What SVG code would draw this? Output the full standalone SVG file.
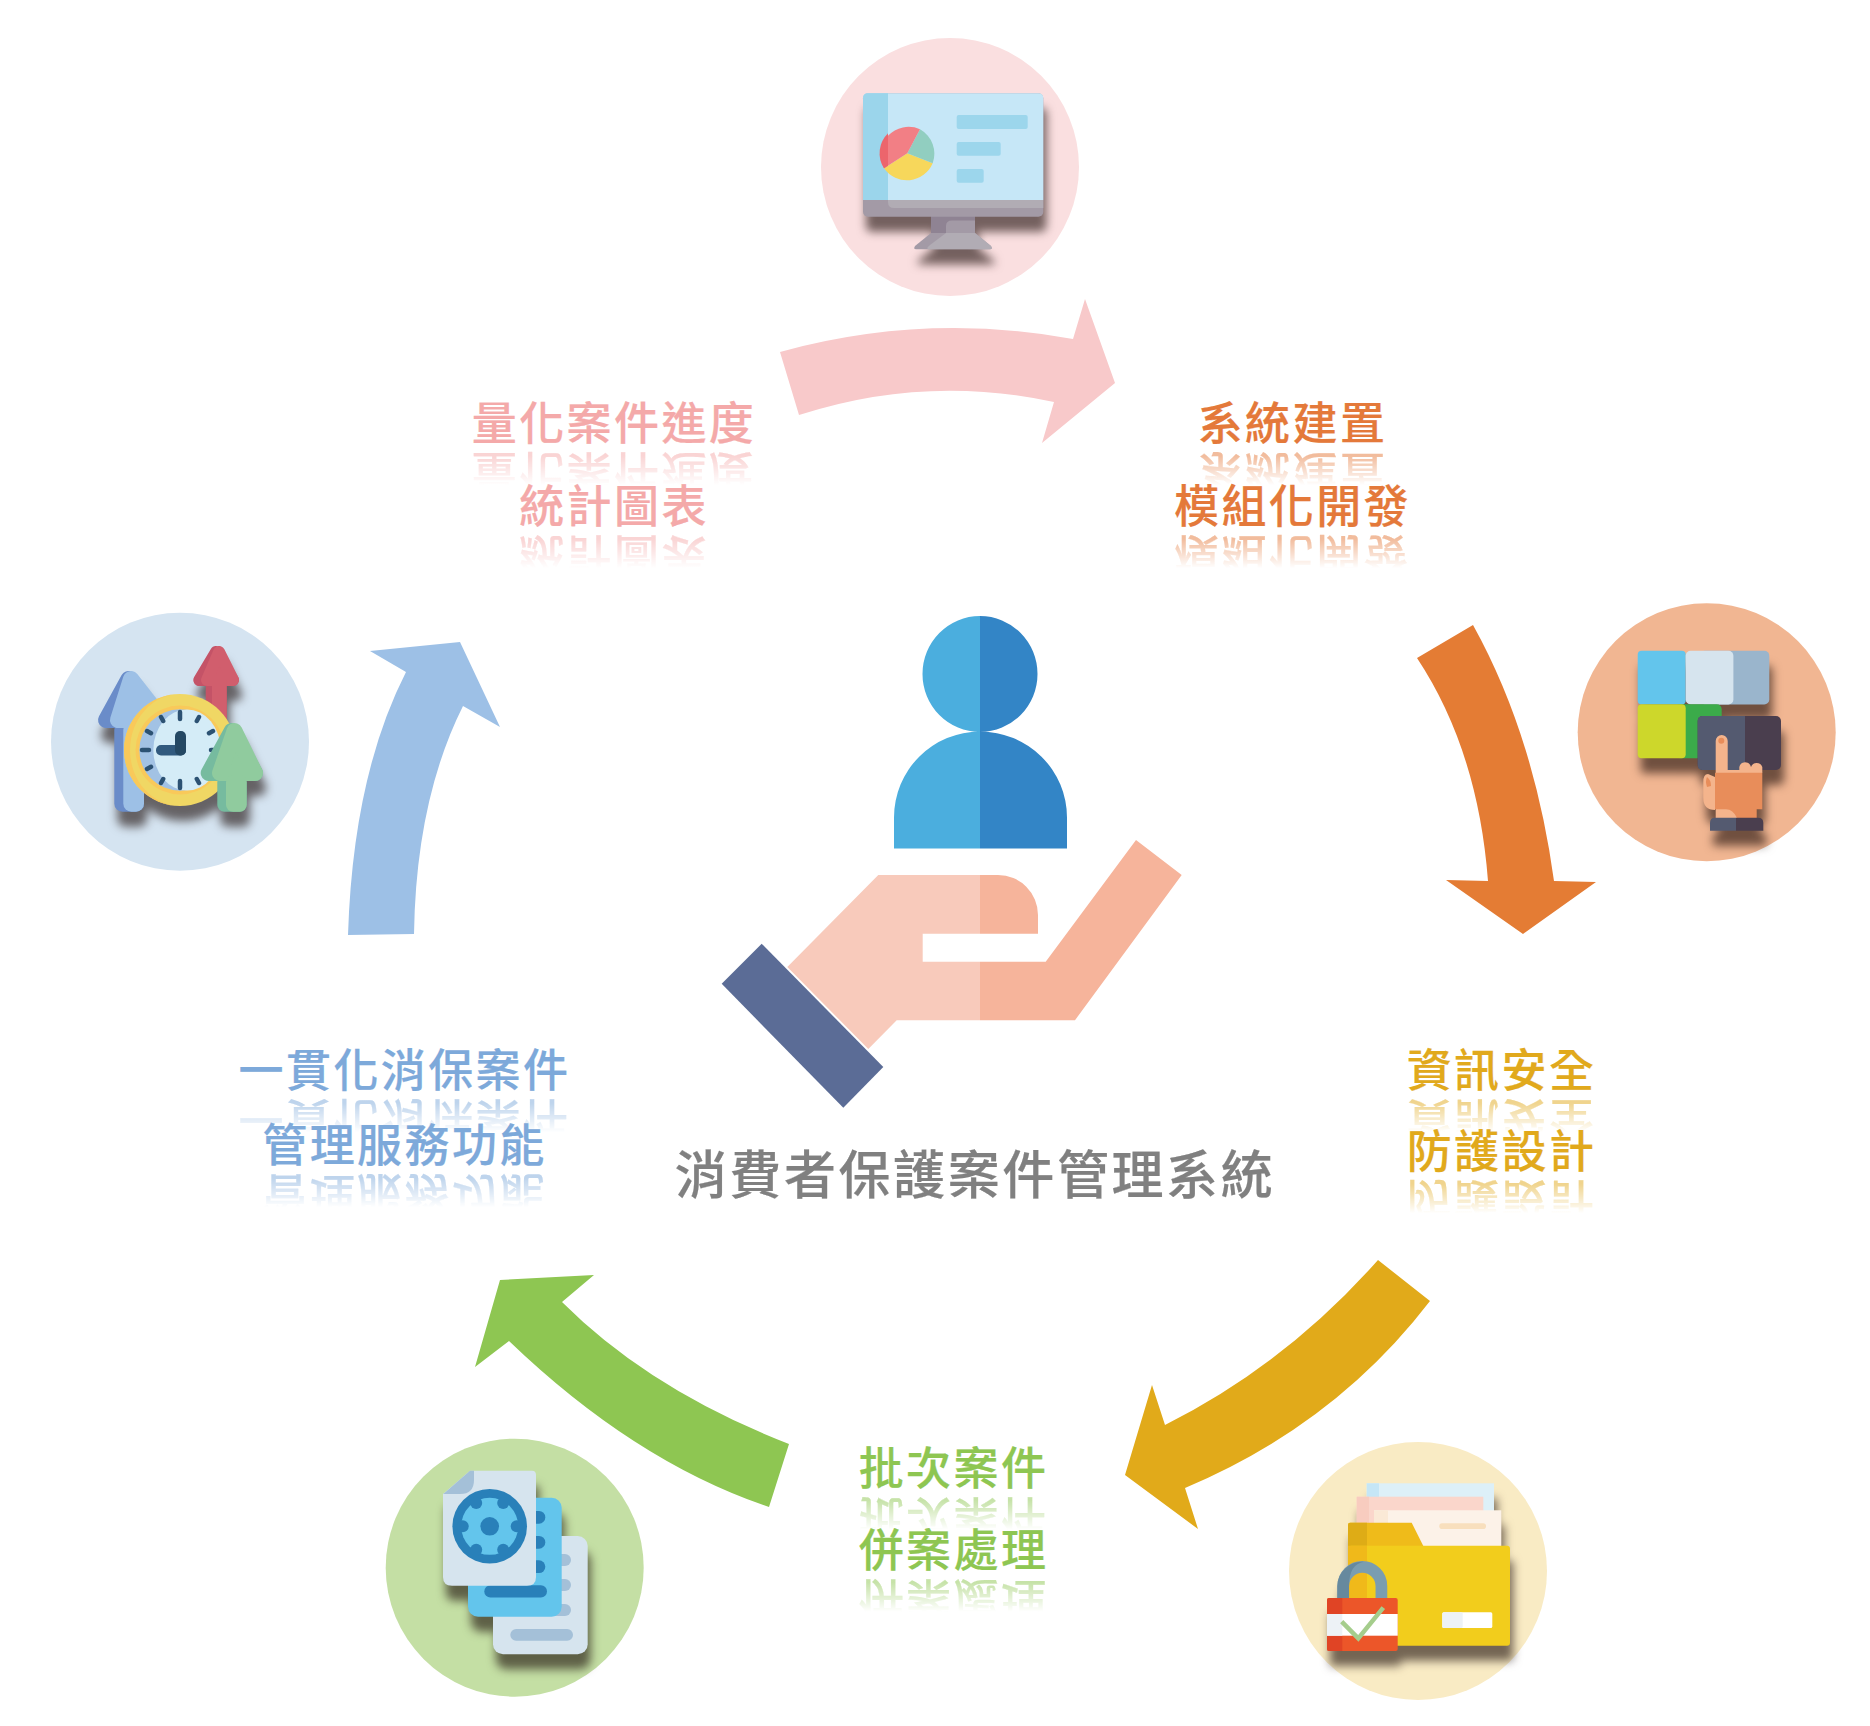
<svg xmlns="http://www.w3.org/2000/svg" width="1870" height="1726" viewBox="0 0 1870 1726">
<style>
text{font-family:"Noto Sans CJK TC","Noto Sans CJK SC",sans-serif;font-weight:500;text-anchor:middle;stroke-width:.2px}
.l{font-size:45px;letter-spacing:2.4px}
.t{font-size:52px;letter-spacing:2.6px;fill:#808080;stroke:#808080}
.r{mask:url(#fade)}
.pk{fill:#f4a9a9;stroke:#f4a9a9}.or{fill:#e4793a;stroke:#e4793a}.go{fill:#e1a91c;stroke:#e1a91c}.gr{fill:#8ec652;stroke:#8ec652}.bl{fill:#7da9da;stroke:#7da9da}
</style>
<defs>
<filter id="sh" filterUnits="userSpaceOnUse" x="0" y="0" width="1870" height="1726" color-interpolation-filters="sRGB">
<feGaussianBlur in="SourceAlpha" stdDeviation="5"/>
<feOffset dx="3" dy="15" result="b"/>
<feFlood flood-color="#1a0c08" flood-opacity=".6"/>
<feComposite in2="b" operator="in"/>
<feMerge><feMergeNode/><feMergeNode in="SourceGraphic"/></feMerge>
</filter>
<linearGradient id="fadeG" x1="0" y1="0" x2="0" y2="1"><stop offset=".35" stop-color="#fff" stop-opacity="0"/><stop offset=".8" stop-color="#fff" stop-opacity=".5"/></linearGradient>
<mask id="fade" maskUnits="objectBoundingBox" maskContentUnits="objectBoundingBox" x="0" y="0" width="1" height="1"><rect width="1" height="1" fill="url(#fadeG)"/></mask>
</defs>
<rect width="1870" height="1726" fill="#fff"/>
<g id="connectors">
<path fill="#f8c9ca" d="M780 352Q925 312 1073 339L1085 299L1115 383L1042 443L1054 402Q925 374 799 415Z"/>
<path fill="#e47c34" d="M1473 625Q1534 735 1554 881L1596 882L1523 934L1446 880L1488 881Q1478 750 1417 658Z"/>
<path fill="#e1aa1a" d="M1378 1260Q1285 1365 1165 1425L1152 1385L1125 1475L1198 1529L1185 1488Q1335 1425 1430 1301Z"/>
<path fill="#8ec652" d="M789 1444Q650 1390 562 1302L594 1275L500 1280L475 1367L509 1341Q635 1462 769 1507Z"/>
<path fill="#9dc0e6" d="M348 935Q353 776 406 672L370 651L460 642L500 727L463 706Q416 800 414 934Z"/>
</g>
<g id="node-center">
<path fill="#4baede" d="M980 616A57.500 58 0 0 0 980 732ZM980 731.500A86 86 0 0 0 894 817.500V848.500H980Z"/>
<path fill="#3385c6" d="M980 616A57.500 58 0 0 1 980 732ZM980 731.500A87 86 0 0 1 1067 817.500V848.500H980Z"/>
<g transform="translate(0 -5)">
<path fill="#f8cabb" d="M878.300 880H980V938.800H922.700V966.800H980V1025.200H896.700L868.300 1054L787.300 972Z"/>
<path fill="#f6b49b" d="M980 880H998A40 40 0 0 1 1038 920V938.800H980ZM980 966.800H1045.700L1136 845L1181.700 880L1075 1025.200H980Z"/>
<path fill="#5b6c96" d="M761.700 948.800L883.300 1072L843.300 1112.800L721.700 988.800Z"/>
</g>
<text class="t" x="975" y="1194">消費者保護案件管理系統</text>
</g>
<g id="node-monitor">
<circle cx="950" cy="167" r="129" fill="#fadfe0"/>
<g filter="url(#sh)">
<path fill="#8f8393" d="M931 216H975V234H931Z"/>
<path fill="#a39aa6" d="M946 234V226Q946 220.500 952 220.500H975V234Z"/>
<path fill="#a39aa6" d="M931 233L915 246Q913 249.300 916 249.300H990Q993 249.300 991 246L975 233Z"/>
<path fill="#b1acb4" d="M946 233H975L991 246Q993 249.300 990 249.300H928Q926 248 930 245Z"/>
<rect x="863" y="93.300" width="180.300" height="123.400" rx="5" fill="#a39aa6"/>
<path fill="#c6e7f7" d="M868 93.300H1038.300Q1043.300 93.300 1043.300 98.300V200H863V98.300Q863 93.300 868 93.300Z"/>
<path fill="#9bd5eb" d="M868 93.300H888V200H863V98.300Q863 93.300 868 93.300Z"/>
<path fill="#b1acb4" d="M888 200H1043.300V208H894Q888 208 888 202Z"/>
</g>
<path fill="#f7d75b" d="M907.300 153.300L932.700 163.300A28 28 0 0 1 884 168.300Z"/>
<path fill="#91cec0" d="M907.300 153.300L920 129.300A28 28 0 0 1 932.700 163.300Z"/>
<path fill="#f27f85" d="M907.300 153.300L884 168.300A28 28 0 0 1 920 129.300Z"/>
<path fill="#ec656c" d="M888 133.200A28 28 0 0 0 884 168.300L888 165.700Z"/>
<g fill="#9cd6ec"><rect x="956.700" y="115" width="71" height="14" rx="2"/><rect x="956.700" y="142" width="44" height="13.700" rx="2"/><rect x="956.700" y="169" width="27" height="13.700" rx="2"/></g>
</g>
<g id="node-module">
<circle cx="1706.700" cy="732.300" r="129" fill="#f1b692"/>
<g filter="url(#sh)">
<rect x="1700" y="650.700" width="69.300" height="53.700" rx="5" fill="#9ab5cc"/>
<rect x="1637.700" y="650.700" width="48" height="53.700" rx="4" fill="#63c5ec"/>
<rect x="1685.700" y="650.700" width="47.700" height="53.700" rx="5" fill="#d6e4ee"/>
<rect x="1675" y="704.300" width="46.700" height="54" rx="5" fill="#3bab4a"/>
<rect x="1637.700" y="704.300" width="48" height="54" rx="4" fill="#cdd72b"/>
<rect x="1697.700" y="716" width="83.300" height="54" rx="5" fill="#4a3e4e"/>
<path fill="#545a70" d="M1702.700 716H1745V770H1702.700Q1697.700 770 1697.700 765V721Q1697.700 716 1702.700 716Z"/>
<path fill="#f4b48c" d="M1715.700 773V741A6 6 0 0 1 1727.700 741V770H1739.300V767A6 6 0 0 1 1751 767A6 6 0 0 1 1762.300 767V773ZM1703.300 782Q1703.300 774 1708 774L1715 777V810H1715Q1703.300 810 1703.300 798ZM1715.700 809H1737V818H1715.700Z"/>
<path fill="#e88d5a" d="M1715 772.700H1762.300V809.300H1756.700V818H1737Q1733 809.300 1726 809.300H1715Z"/>
<circle cx="1721.300" cy="740.700" r="3" fill="#e88d5a"/>
<path fill="#e88d5a" d="M1707 777Q1711 780 1711 786L1707 787Q1705 781 1707 777Z"/>
<path fill="#4a3e4e" d="M1736 817.700H1758Q1763.300 817.700 1763.300 823V830.700H1736Z"/>
<path fill="#545a70" d="M1736 817.700H1715Q1710 817.700 1710 823V830.700H1736Z"/>
</g>
</g>
<g id="node-security">
<circle cx="1418" cy="1571" r="129" fill="#f9ebc4"/>
<g filter="url(#sh)">
<rect x="1366.700" y="1483.300" width="127.300" height="40" fill="#ddf0f8"/>
<rect x="1366.700" y="1483.300" width="12.300" height="40" fill="#c5e6f6"/>
<rect x="1356.700" y="1496.700" width="126.600" height="40" fill="#fad6cb"/>
<rect x="1356.700" y="1496.700" width="12.300" height="40" fill="#f8ccbf"/>
<rect x="1374" y="1510.300" width="127.300" height="40" fill="#fcf2e8"/>
<rect x="1374" y="1510.300" width="14" height="40" fill="#fae9d6"/>
<rect x="1439.300" y="1523.300" width="46.700" height="5.700" rx="2.800" fill="#f8dfbd"/>
<path fill="#efbb1a" d="M1350 1522.700H1411.700L1423.300 1546H1348V1525Q1348 1522.700 1350 1522.700Z"/>
<path fill="#deac16" d="M1350 1522.700H1367V1546H1348V1525Q1348 1522.700 1350 1522.700Z"/>
<rect x="1348" y="1545.700" width="162" height="100" rx="3" fill="#f2cd1c"/>
<path fill="#f0b91a" d="M1348 1545.700H1367V1645.700H1351Q1348 1645.700 1348 1642.700Z"/>
<rect x="1442.300" y="1612.300" width="50" height="15.700" rx="1.500" fill="#fff"/>
<rect x="1442.300" y="1612.300" width="20.400" height="15.700" rx="1.500" fill="#edf2f6"/>
<path fill="none" stroke="#7a9db0" stroke-width="11.700" d="M1343.200 1600V1586A18.800 18.800 0 0 1 1381.400 1586V1600"/>
<path fill="#66899e" d="M1337.300 1600V1586A25 25 0 0 1 1364 1561.700Q1349 1564 1349 1586V1600Z"/>
<rect x="1327" y="1598" width="70.700" height="53" rx="2" fill="#ec5629"/>
<path fill="#e04425" d="M1329 1598H1342.300V1651H1329Q1327 1651 1327 1649V1600Q1327 1598 1329 1598Z"/>
<rect x="1327" y="1614" width="70.700" height="21.700" fill="#fff"/>
<rect x="1327" y="1614" width="15.300" height="21.700" fill="#edf2f6"/>
</g>
<path fill="none" stroke="#a5cd8c" stroke-width="4.500" d="M1341.700 1621.700L1358.300 1638.300L1383.300 1607.700"/>
</g>
<g id="node-batch">
<circle cx="514.700" cy="1567.700" r="129" fill="#c4dfa4"/>
<g filter="url(#sh)">
<rect x="493" y="1536" width="94.700" height="118.300" rx="10" fill="#d6e4ee"/>
<g fill="#a4c0d8"><rect x="540" y="1554" width="31" height="12" rx="6"/><rect x="540" y="1579" width="31" height="12" rx="6"/><rect x="540" y="1604" width="31" height="12" rx="6"/><rect x="510.300" y="1629" width="62.700" height="11.700" rx="5.800"/></g>
<rect x="468" y="1497.700" width="93.700" height="119" rx="10" fill="#63c5ec"/>
<g fill="#2980b9"><rect x="520" y="1511" width="25.300" height="12.700" rx="6.300"/><rect x="520" y="1536" width="25.300" height="12.700" rx="6.300"/><rect x="520" y="1560.300" width="25.300" height="12.700" rx="6.300"/><rect x="484.300" y="1585.300" width="62.700" height="12.300" rx="6.100"/></g>
<path fill="#d6e4ee" d="M470 1470.700H532Q536 1470.700 536 1475V1577Q536 1585.700 527 1585.700H452Q443 1585.700 443 1577V1494Z"/>
<path fill="#a4c0d8" d="M470 1470.700H474V1480Q474 1494 460 1494H443.300Z"/>
<circle cx="489.700" cy="1526.300" r="37.300" fill="#2980b9"/>
</g>
<circle cx="489.700" cy="1526.300" r="28.500" fill="#63c5ec"/>
<g fill="#2980b9"><circle cx="489.700" cy="1526.300" r="9.300"/><circle cx="516.700" cy="1526.300" r="6"/><circle cx="503.200" cy="1503" r="6"/><circle cx="476.200" cy="1503" r="6"/><circle cx="462.700" cy="1526.300" r="6"/><circle cx="476.200" cy="1549.700" r="6"/><circle cx="503.200" cy="1549.700" r="6"/></g>
</g>
<g id="node-progress">
<circle cx="180" cy="741.700" r="129" fill="#d5e4f1"/>
<g filter="url(#sh)">
<path fill="#c45367" stroke="#c45367" stroke-width="12" stroke-linejoin="round" d="M216 652L199.300 680H233Z"/>
<rect x="205.700" y="680" width="21" height="50" fill="#c45367"/>
<path fill="#d15e6d" stroke="#d15e6d" stroke-width="12" stroke-linejoin="round" d="M219 652L207 680H233Z"/>
<rect x="212" y="680" width="14.700" height="50" fill="#d15e6d"/>
<path fill="#6a8cc9" stroke="#6a8cc9" stroke-width="16" stroke-linejoin="round" d="M128.500 679L106 720H160Z"/>
<rect x="114.300" y="722" width="29.700" height="89.700" rx="8" fill="#6a8cc9"/>
<path fill="#9dc0e6" stroke="#9dc0e6" stroke-width="16" stroke-linejoin="round" d="M131 679L118 720H163Z"/>
<rect x="123.300" y="722" width="20.700" height="89.700" rx="8" fill="#9dc0e6"/>
<circle cx="180" cy="750" r="56" fill="#f0d764"/>
<path fill="#f9c95a" d="M180 694A56 56 0 0 0 180 806A50 56 0 0 1 180 694Z"/>
<circle cx="180" cy="750" r="44.500" fill="#f9c95a"/>
<circle cx="180" cy="750" r="40.700" fill="#a2c2e4"/>
<ellipse cx="187" cy="750" rx="33.700" ry="40.500" fill="#d4ecf7"/>
<g stroke="#2c5273" stroke-width="4.500" stroke-linecap="round">
<path d="M180 712V719M180 788V781M142 750H149M218 750H211"/>
<path d="M199 717L196.800 721M161 717L163.200 721M199 783L196.800 779M161 783L163.200 779M147 731L151 733.200M213 731L209 733.200M147 769L151 766.800M213 769L209 766.800"/>
</g>
<rect x="156" y="745" width="30" height="10.500" rx="5" fill="#315a7e"/>
<rect x="175" y="731" width="11" height="24.500" rx="5" fill="#244863"/>
<path fill="#76bb9f" stroke="#76bb9f" stroke-width="16" stroke-linejoin="round" d="M231.700 731L208.700 773H255Z"/>
<rect x="217.300" y="775" width="29.400" height="36.700" rx="7" fill="#76bb9f"/>
<path fill="#90cb9e" stroke="#90cb9e" stroke-width="16" stroke-linejoin="round" d="M234.500 731L220 773H255Z"/>
<rect x="226" y="775" width="20.700" height="36.700" rx="7" fill="#90cb9e"/>
</g>
</g>
<g id="labels">
<text class="l pk" x="614" y="440">量化案件進度</text>
<text class="l pk r" transform="matrix(1 0 0 -1 614 456)">量化案件進度</text>
<text class="l pk" x="614" y="523">統計圖表</text>
<text class="l pk r" transform="matrix(1 0 0 -1 614 539)">統計圖表</text>
<text class="l or" x="1292.500" y="440">系統建置</text>
<text class="l or r" transform="matrix(1 0 0 -1 1292.500 456)">系統建置</text>
<text class="l or" x="1292.500" y="523">模組化開發</text>
<text class="l or r" transform="matrix(1 0 0 -1 1292.500 539)">模組化開發</text>
<text class="l go" x="1501.500" y="1087">資訊安全</text>
<text class="l go r" transform="matrix(1 0 0 -1 1501.500 1103)">資訊安全</text>
<text class="l go" x="1501.500" y="1168">防護設計</text>
<text class="l go r" transform="matrix(1 0 0 -1 1501.500 1184)">防護設計</text>
<text class="l gr" x="953.500" y="1484.500">批次案件</text>
<text class="l gr r" transform="matrix(1 0 0 -1 953.500 1500.500)">批次案件</text>
<text class="l gr" x="953.500" y="1566.500">併案處理</text>
<text class="l gr r" transform="matrix(1 0 0 -1 953.500 1582.500)">併案處理</text>
<text class="l bl" x="404.500" y="1087">一貫化消保案件</text>
<text class="l bl r" transform="matrix(1 0 0 -1 404.500 1103)">一貫化消保案件</text>
<text class="l bl" x="404.500" y="1162">管理服務功能</text>
<text class="l bl r" transform="matrix(1 0 0 -1 404.500 1178)">管理服務功能</text>
</g>
</svg>
